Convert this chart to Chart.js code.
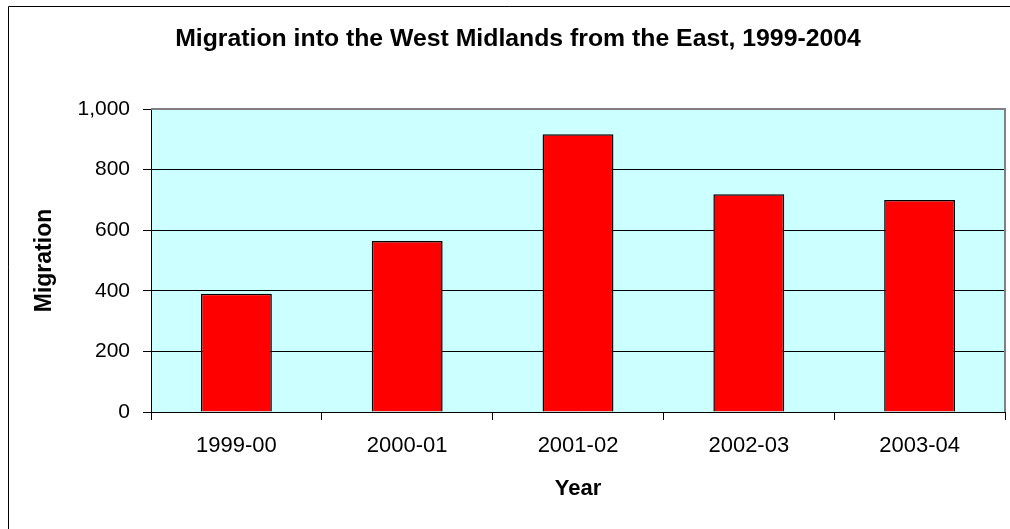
<!DOCTYPE html>
<html>
<head>
<meta charset="utf-8">
<title>Migration into the West Midlands from the East</title>
<script src="https://cdn.jsdelivr.net/npm/chart.js@4"></script>
<style>
  html, body { margin: 0; padding: 0; background: #fff; }
  #wrap { width: 1010px; height: 529px; }
</style>
</head>
<body>
<div id="wrap"><canvas id="migracion" width="1010" height="529"></canvas></div>
<script>
// Datos del gráfico
const years = ['1999-00', '2000-01', '2001-02', '2002-03', '2003-04'];
const migration = [390, 564, 917, 719, 700];
const yTicks = [0, 200, 400, 600, 800, 1000];
const chartTitle = 'Migration into the West Midlands from the East, 1999-2004';

const FONT = 'Arial, "Liberation Sans", sans-serif';

// Fondo celeste del área de trazado, bordes, marco exterior y título
const plotFrame = {
    id: 'plotFrame',
    beforeDraw(chart) {
        const { ctx, chartArea: a } = chart;
        ctx.save();
        ctx.fillStyle = '#ccffff';
        ctx.fillRect(a.left, a.top, a.right - a.left, a.bottom - a.top);
        ctx.restore();
    },
    afterDraw(chart) {
        const { ctx, chartArea: a } = chart;
        ctx.save();
        // marco exterior del gráfico
        ctx.strokeStyle = '#000';
        ctx.lineWidth = 1;
        ctx.beginPath();
        ctx.moveTo(8.5, chart.height);
        ctx.lineTo(8.5, 6.5);
        ctx.lineTo(chart.width, 6.5);
        ctx.stroke();
        // borde superior y derecho en gris
        ctx.strokeStyle = '#808080';
        ctx.lineWidth = 2;
        ctx.beginPath();
        ctx.moveTo(a.left, a.top);
        ctx.lineTo(a.right, a.top);
        ctx.lineTo(a.right, a.bottom);
        ctx.stroke();
        // título centrado sobre el marco completo
        ctx.fillStyle = '#000';
        ctx.font = 'bold 24.8px ' + FONT;
        ctx.textAlign = 'center';
        ctx.textBaseline = 'alphabetic';
        ctx.fillText(chartTitle, 518, 46);
        ctx.restore();
    }
};

new Chart(document.getElementById('migracion'), {
    type: 'bar',
    data: {
        labels: years,
        datasets: [{
            label: 'Migration',
            data: migration,
            backgroundColor: '#ff0000',
            borderColor: '#000',
            borderWidth: 1.5,
            categoryPercentage: 1,
            barPercentage: 0.415
        }]
    },
    options: {
        responsive: false,
        animation: false,
        layout: { padding: { left: 0, right: 5, top: 109, bottom: 0 } },
        plugins: {
            legend: { display: false },
            tooltip: { enabled: false },
            title: { display: false }
        },
        scales: {
            x: {
                offset: true,
                grid: {
                    display: true,
                    offset: true,
                    drawOnChartArea: false,
                    drawTicks: true,
                    tickLength: 8,
                    color: '#000'
                },
                border: { display: true, color: '#000', width: 1 },
                ticks: {
                    color: '#000',
                    padding: 13,
                    font: { family: FONT, size: 22 }
                },
                title: {
                    display: true,
                    text: 'Year',
                    color: '#000',
                    font: { family: FONT, size: 22, weight: 'bold', lineHeight: 1.2 },
                    padding: { top: 4, bottom: 27 }
                },
                afterFit(scale) { scale.height = 117; }
            },
            y: {
                min: 0,
                max: 1000,
                afterBuildTicks(scale) {
                    scale.ticks = yTicks.map(v => ({ value: v }));
                },
                grid: {
                    color: '#000',
                    lineWidth: 1,
                    tickLength: 8
                },
                border: { display: true, color: '#000', width: 1 },
                ticks: {
                    color: '#000',
                    padding: 13,
                    font: { family: FONT, size: 21 },
                    callback: v => v.toLocaleString('en-US')
                },
                title: {
                    display: true,
                    text: 'Migration',
                    color: '#000',
                    font: { family: FONT, size: 23, weight: 'bold', lineHeight: 1.2 },
                    padding: { top: 31, bottom: 0 }
                },
                afterFit(scale) { scale.width = 151; }
            }
        }
    },
    plugins: [plotFrame]
});
</script>
</body>
</html>
